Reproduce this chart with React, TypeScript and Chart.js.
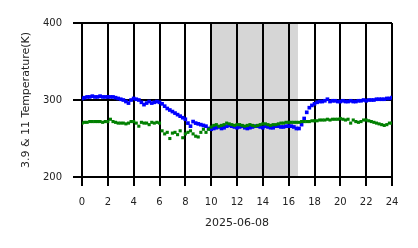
import React, { useEffect, useRef } from "react";
import { Chart, registerables } from "chart.js";

Chart.register(...registerables);

const STEP_HOURS = 0.2;
const xTitle = "2025-06-08";
const yTitle = "3.9 & 11 Temperature(K)";
const shadeStart = 10.05;
const shadeEnd = 16.72;

const blueValues = [
  302, 303, 304, 304, 305, 304, 304, 305, 304, 304, 304,
  304, 304, 303, 302, 301,
  300, 298, 296, 300, 302,
  301, 300, 297, 294, 296,
  298, 296, 297, 298, 297,
  295, 292, 289, 287, 285,
  283, 281, 279, 277, 275,
  270, 266, 272, 270, 269,
  268, 267, 266, 263, 262,
  263, 264, 265, 263, 264,
  266, 267, 266, 265, 264,
  265, 266, 264, 263, 264,
  265, 266, 266, 265, 264,
  266, 265, 264, 264, 266,
  266, 265, 265, 266, 266,
  266, 265, 263, 263, 268,
  276, 284, 290, 293, 295,
  297, 298, 298, 299, 301,
  298, 299, 299, 298, 298,
  299, 298, 298, 299, 298,
  298, 299, 299, 300, 299,
  300, 300, 300, 301, 301,
  301, 301, 302, 302, 303,
];

const greenValues = [
  270, 271, 271, 272, 272, 272, 272, 272, 271, 272, 272,
  275, 272, 271, 270, 270,
  270, 269, 270, 272, 272,
  270, 266, 271, 270, 270,
  268, 271, 270, 271, 270,
  260, 256, 258, 250, 257,
  258, 255, 260, 251, 256,
  258, 260, 256, 253, 252,
  258, 262, 258, 262, 265,
  267, 268, 266, 267, 268,
  270, 269, 268, 267, 268,
  268, 267, 266, 267, 268,
  267, 266, 267, 268, 269,
  269, 268, 267, 268, 268,
  269, 270, 270, 271, 271,
  271, 271, 271, 271, 272,
  272, 272, 272, 273, 273,
  273, 274, 274, 274, 275,
  274, 275, 275, 275, 276,
  275, 274, 275, 270, 274,
  272, 271, 272, 274, 274,
  273, 272, 271, 270, 269,
  268, 267, 268, 270, 270,
];

const toPoints = (vals: number[]) =>
  vals.map((v, i) => ({ x: +(i * STEP_HOURS).toFixed(2), y: v }));

const shadePlugin = {
  id: "shade",
  beforeDraw(chart: any) {
    const { ctx, chartArea, scales } = chart;
    const x0 = scales.x.getPixelForValue(shadeStart);
    const x1 = scales.x.getPixelForValue(shadeEnd);
    ctx.save();
    ctx.fillStyle = "#d6d6d6";
    ctx.fillRect(x0, chartArea.top, x1 - x0, chartArea.bottom - chartArea.top);
    ctx.restore();
  },
};

export default function App() {
  const ref = useRef<HTMLCanvasElement>(null);
  useEffect(() => {
    if (!ref.current) return;
    const font = { family: "DejaVu Sans", size: 10 };
    const titleFont = { family: "DejaVu Sans", size: 11 };
    const chart = new Chart(ref.current, {
      type: "scatter",
      data: {
        datasets: [
          {
            data: toPoints(blueValues),
            backgroundColor: "#0000ff",
            borderWidth: 0,
            pointStyle: "rect",
            pointRadius: 2.6,
            showLine: false,
            order: 1,
          },
          {
            data: toPoints(greenValues),
            backgroundColor: "#008000",
            borderWidth: 0,
            pointStyle: "rect",
            pointRadius: 2.2,
            showLine: false,
            order: 0,
          },
        ],
      },
      options: {
        responsive: false,
        animation: false,
        layout: { padding: { top: 23, right: 26, left: 0, bottom: 14 } },
        plugins: { legend: { display: false }, tooltip: { enabled: false } },
        scales: {
          x: {
            type: "linear",
            min: 0,
            max: 24,
            ticks: { stepSize: 2, color: "#222", font, padding: 10, maxRotation: 0 },
            grid: { color: "#000", lineWidth: 2, tickLength: 9, tickColor: "#000", tickWidth: 2 },
            border: { display: true, color: "#000", width: 2 },
            title: { display: true, text: xTitle, color: "#222", font: titleFont, padding: { top: 4, bottom: 4 } },
            afterFit(scale: any) {
              scale.height = 57;
            },
          },
          y: {
            min: 200,
            max: 400,
            ticks: { stepSize: 100, color: "#222", font, padding: 11 },
            grid: { color: "#000", lineWidth: 2, tickLength: 9, tickColor: "#000", tickWidth: 2 },
            border: { display: true, color: "#000", width: 2 },
            title: { display: true, text: yTitle, color: "#222", font: titleFont, padding: { top: 20, bottom: 4 } },
            afterFit(scale: any) {
              scale.width = 82;
            },
          },
        },
      },
      plugins: [shadePlugin],
    } as any);
    return () => chart.destroy();
  }, []);
  return (
    <div style={{ position: "fixed", left: 0, top: 0, width: 418, height: 248, background: "#fff" }}>
      <canvas ref={ref} width={418} height={248} />
    </div>
  );
}
